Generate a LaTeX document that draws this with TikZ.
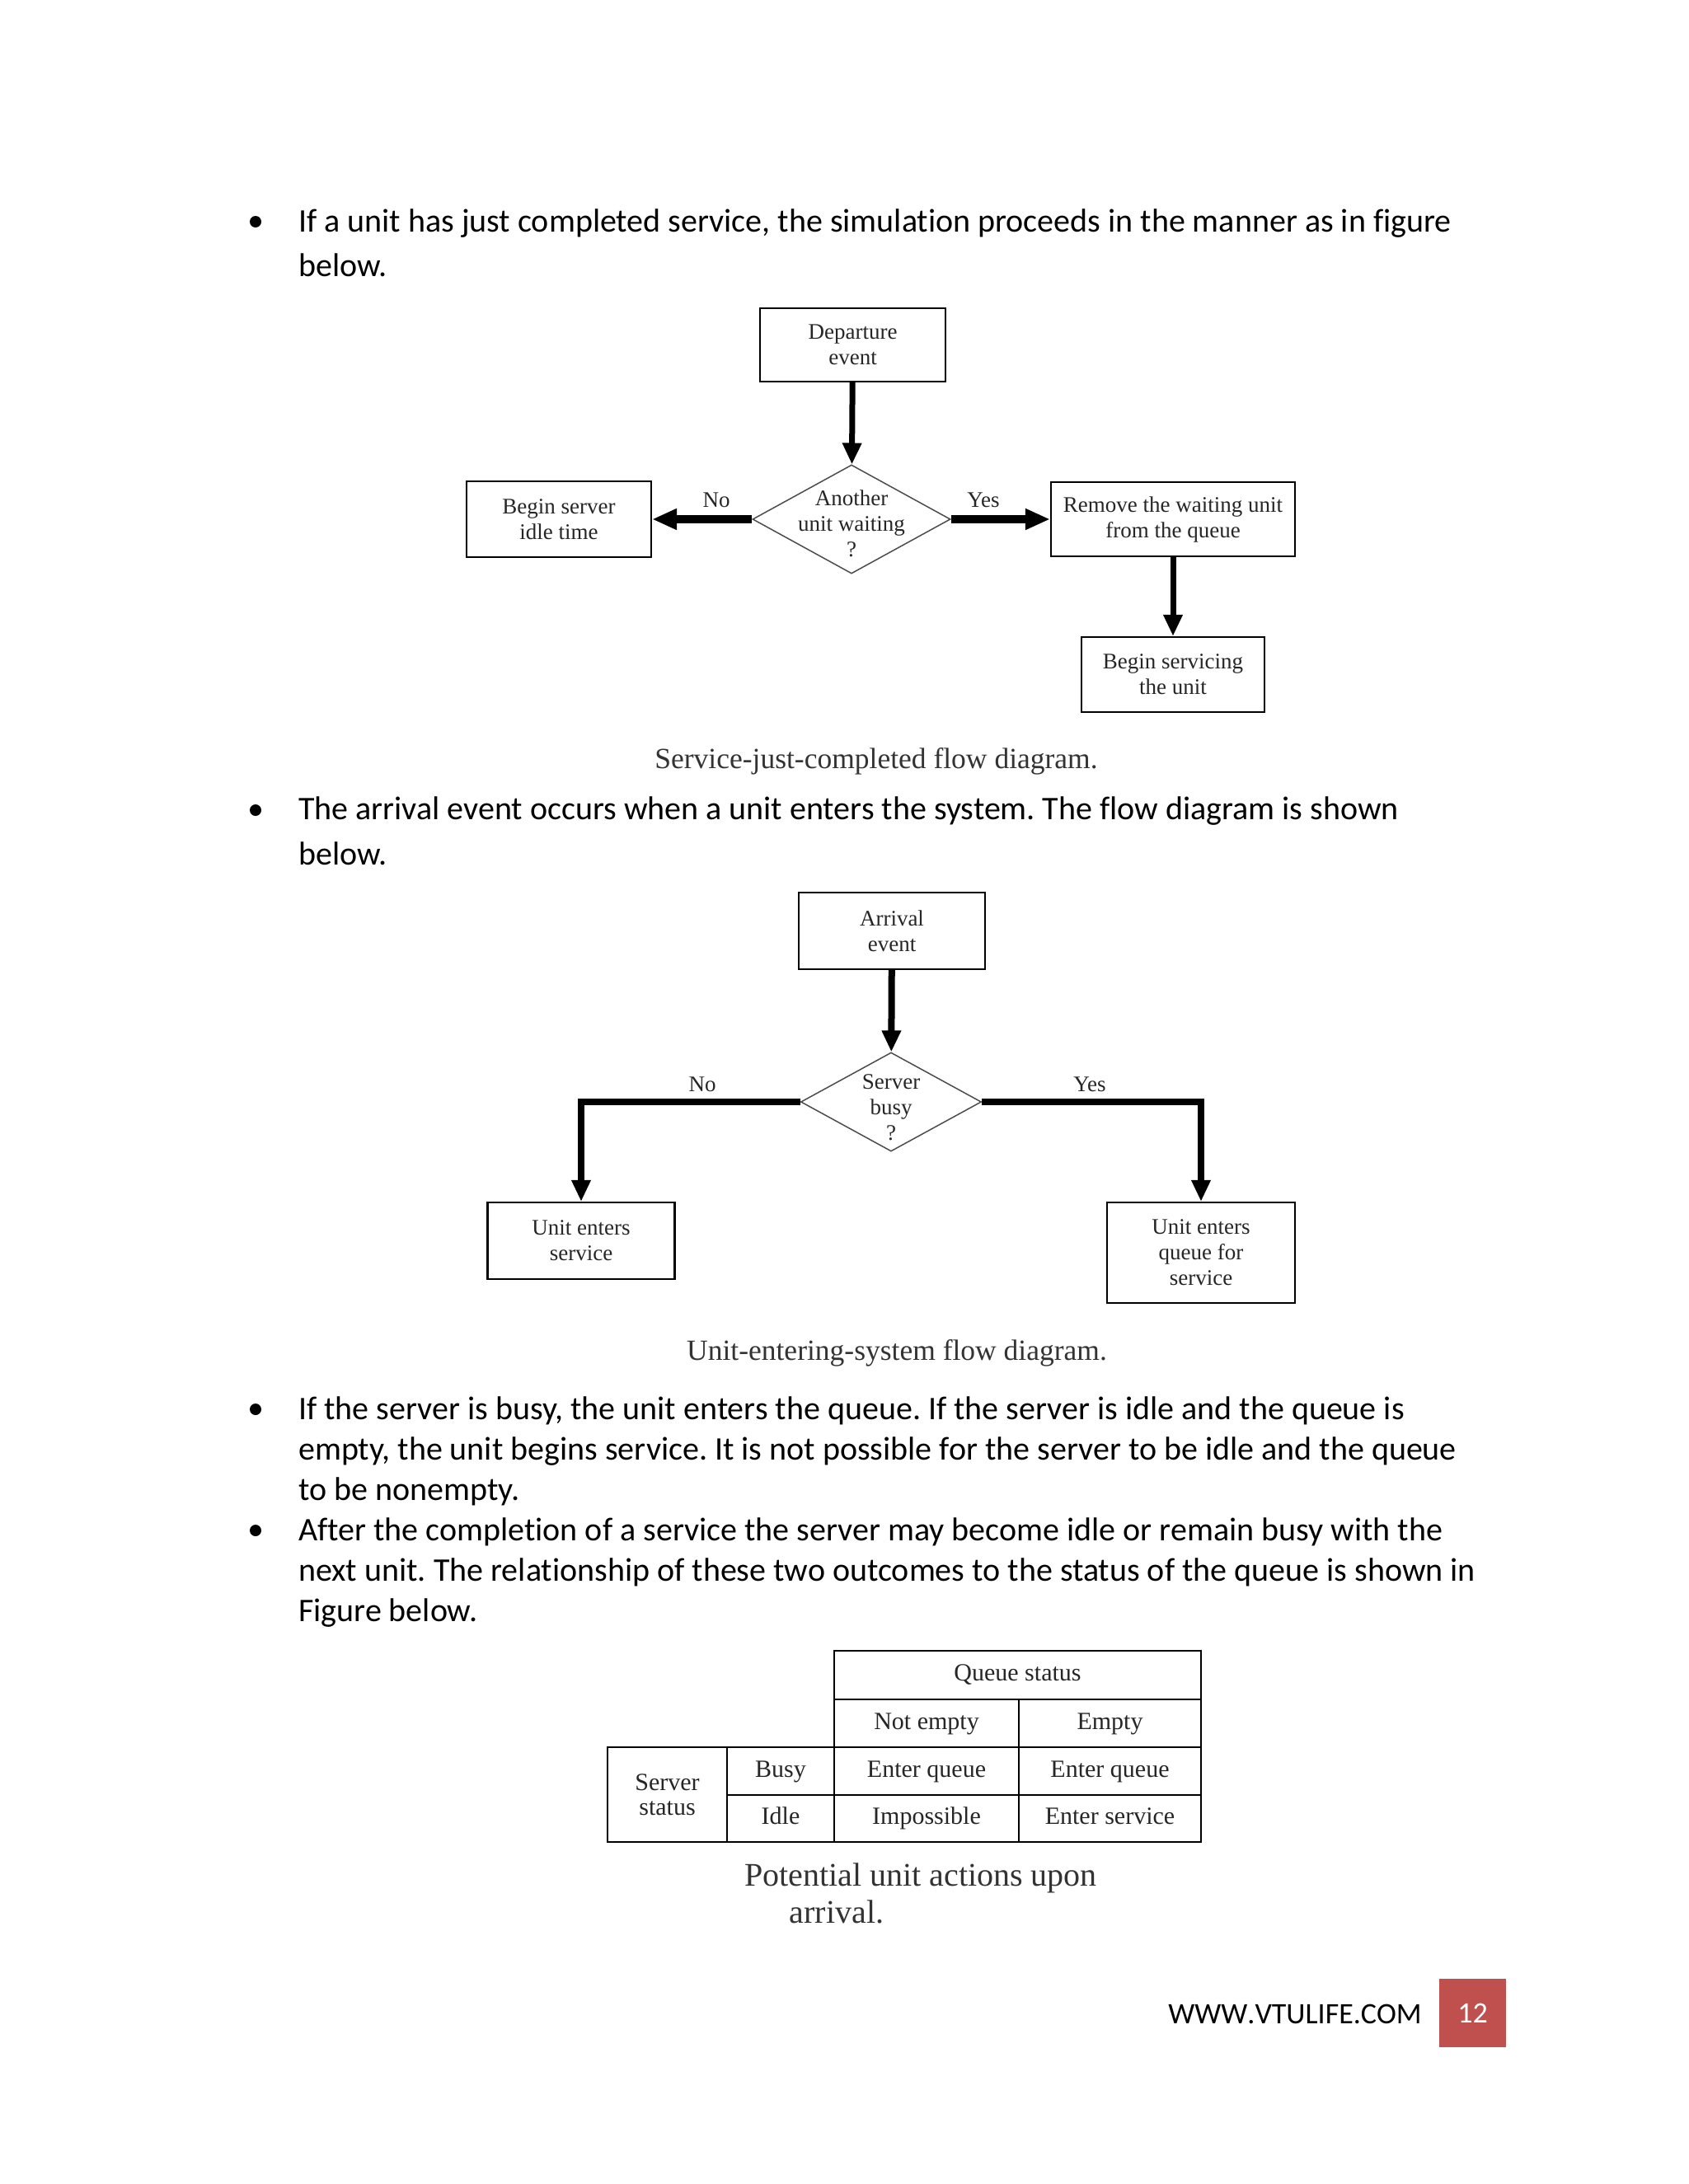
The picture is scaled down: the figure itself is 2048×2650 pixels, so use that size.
\documentclass[tikz,border=0pt]{standalone}
\usepackage{fontspec}
\setmainfont{Liberation Serif}
\newfontfamily\calibri[Ligatures={NoCommon}]{Carlito}
\newfontfamily\calibrinokern[Ligatures={NoCommon},Kerning=Off]{Carlito}
\usetikzlibrary{shapes.geometric,arrows.meta}
\definecolor{pagered}{HTML}{C0504D}
\newcommand{\bodyfont}{\calibri\fontsize{40}{48}\selectfont}
\newcommand{\diagfont}{\fontsize{27}{31}\selectfont}
\newcommand{\capfont}{\fontsize{35.5}{40}\selectfont}
\frenchspacing

\begin{document}
\begin{tikzpicture}[x=1pt,y=-1pt,
  box/.style={rectangle,draw=black,line width=2.2pt,align=center,inner sep=0pt,font=\diagfont,text=black!85},
  decision/.style={diamond,draw=black!70,line width=1.5pt,inner sep=0pt},
  flow/.style={line width=7pt,-{Triangle[length=26pt,width=22pt]}},
  side/.style={line width=10pt,-{Triangle[length=30pt,width=24pt]}},
  lbl/.style={anchor=base,inner sep=0pt,font=\diagfont,text=black!85},
  caption/.style={anchor=base,inner sep=0pt,font=\capfont,text=black!80},
  line/.style={anchor=base west,inner sep=0pt,font=\bodyfont},
  cell/.style={rectangle,draw=black,line width=2.6pt,inner sep=0pt,font=\fontsize{30}{30}\selectfont,text=black!85},
  entry/.style={cell,text height=21pt,text depth=7pt}]

\useasboundingbox[fill=white] (0,0) rectangle (2048,2650);

% bullets
\foreach \y in {269,983,1710,1857}
  \fill (310,\y) circle (7);

\node[line] (t1a) at (362,281) {If a unit has just completed service, the simulation proceeds in the manner as in figure};
\node[line] (t1b) at (362,335) {below.};

% service just completed
\node[box,minimum width=225,minimum height=89] (dep) at (1034.5,418.5) {Departure\\event};
\node[decision,minimum width=240,minimum height=132] (wait) at (1033,630) {};
\node[inner sep=0pt,align=center,font=\diagfont,text=black!85] (waittxt) at (1033,635) {Another\\unit waiting\\?};
\node[box,minimum width=224,minimum height=92] (idle) at (678,630) {Begin server\\idle time};
\node[box,minimum width=296,minimum height=90] (remove) at (1423,630) {Remove the waiting unit\\from the queue};
\node[box,minimum width=222,minimum height=91] (begin) at (1423,818.5) {Begin servicing\\the unit};

\draw[flow] (dep) -- (wait);
\draw[side] (wait) -- (idle);
\draw[side] (wait) -- (remove);
\draw[flow] (remove) -- (begin);

\node[lbl] (no1) at (869,615) {No};
\node[lbl] (yes1) at (1193,615) {Yes};
\node[caption] (cap1) at (1063,932) {Service-just-completed flow diagram.};

\node[line] (t2a) at (362,994) {The arrival event occurs when a unit enters the system. The flow diagram is shown};
\node[line] (t2b) at (362,1049) {below.};

% unit entering system
\node[box,minimum width=226,minimum height=93] (arr) at (1082,1129.5) {Arrival\\event};
\node[decision,minimum width=219,minimum height=120] (busy) at (1081,1337) {};
\node[inner sep=0pt,align=center,font=\diagfont,text=black!85] (busytxt) at (1081,1344) {Server\\busy\\?};
\node[box,minimum width=227,minimum height=93] (enter) at (705,1505.5) {Unit enters\\service};
\node[box,minimum width=228,minimum height=122] (queue) at (1457,1520) {Unit enters\\queue for\\service};

\draw[flow,line width=8pt] (arr) -- (busy);
\draw[flow,line width=8pt] (busy.west) -| (enter.north);
\draw[flow,line width=8pt] (busy.east) -| (queue.north);

\node[lbl] (no2) at (852,1324) {No};
\node[lbl] (yes2) at (1322,1324) {Yes};
\node[caption] (cap2) at (1088,1650) {Unit-entering-system flow diagram.};

\node[line] (t3a) at (362,1722) {If the server is busy, the unit enters the queue. If the server is idle and the queue is};
\node[line] (t3b) at (362,1771) {empty, the unit begins service. It is not possible for the server to be idle and the queue};
\node[line] (t3c) at (362,1820) {to be nonempty.};
\node[line] (t4a) at (362,1869) {After the completion of a service the server may become idle or remain busy with the};
\node[line] (t4b) at (362,1918) {next unit. The relationship of these two outcomes to the status of the queue is shown in};
\node[line] (t4c) at (362,1967) {Figure below.};

% table
\node[entry,minimum width=445,minimum height=59] (qs) at (1234.5,2032.5) {Queue status};
\node[entry,minimum width=224,minimum height=58] (ne) at (1124,2091) {Not empty};
\node[entry,minimum width=221,minimum height=58] (em) at (1346.5,2091) {Empty};
\node[cell,minimum width=145,minimum height=115,align=center] (ss) at (809.5,2177.5) {Server\\status};
\node[entry,minimum width=130,minimum height=58] (bs) at (947,2149) {Busy};
\node[entry,minimum width=130,minimum height=57] (il) at (947,2206.5) {Idle};
\node[entry,minimum width=224,minimum height=58] (eq1) at (1124,2149) {Enter queue};
\node[entry,minimum width=221,minimum height=58] (eq2) at (1346.5,2149) {Enter queue};
\node[entry,minimum width=224,minimum height=57] (imp) at (1124,2206.5) {Impossible};
\node[entry,minimum width=221,minimum height=57] (es) at (1346.5,2206.5) {Enter service};

\node[caption,font=\fontsize{40}{46}\selectfont] (cap3a) at (1117,2288) {Potential unit actions upon};
\node[caption,font=\fontsize{40}{46}\selectfont] (cap3b) at (1015,2333) {arrival.};

% footer
\node[anchor=base east,inner sep=0pt,font=\calibrinokern\fontsize{36}{36}\selectfont] (site) at (1725,2455) {WWW.VTULIFE.COM};
\node[fill=pagered,minimum width=81,minimum height=83,inner sep=0pt,text=white,font=\calibri\fontsize{36}{36}\selectfont] (page) at (1786.5,2442.5) {12};

\end{tikzpicture}
\end{document}
